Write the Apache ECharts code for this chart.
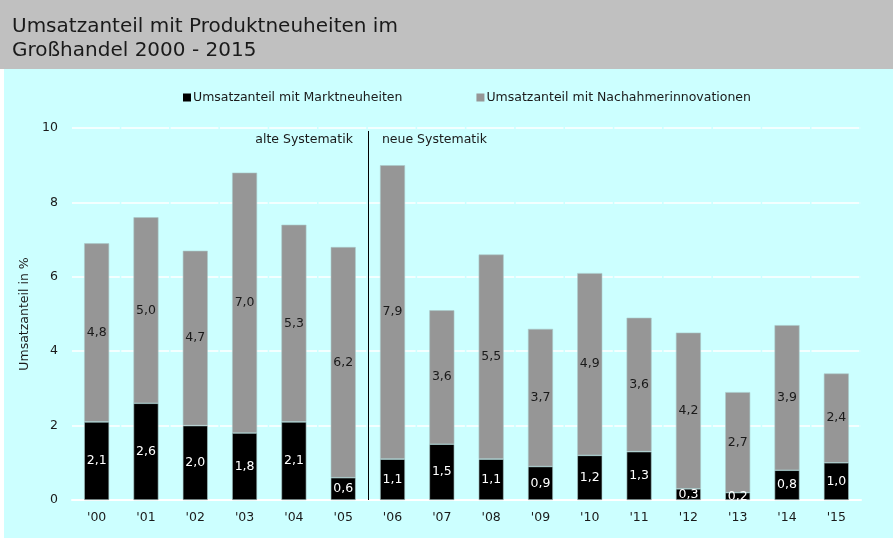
<!DOCTYPE html>
<html>
<head>
<meta charset="utf-8">
<script src="https://cdn.jsdelivr.net/npm/echarts@6/dist/echarts.min.js"></script>
<style>
html, body { margin: 0; padding: 0; background: #fff; }
#chart { width: 893px; height: 540px; }
</style>
</head>
<body>
<div id="chart"></div>
<script>
var years = ["'00","'01","'02","'03","'04","'05","'06","'07","'08","'09","'10","'11","'12","'13","'14","'15"];
var marktneuheiten = [2.1, 2.6, 2.0, 1.8, 2.1, 0.6, 1.1, 1.5, 1.1, 0.9, 1.2, 1.3, 0.3, 0.2, 0.8, 1.0];
var nachahmer = [4.8, 5.0, 4.7, 7.0, 5.3, 6.2, 7.9, 3.6, 5.5, 3.7, 4.9, 3.6, 4.2, 2.7, 3.9, 2.4];
var yTicks = [0, 2, 4, 6, 8, 10];
var breakAt = 6; // boundary between '05 and '06

var font = '"DejaVu Sans", Verdana, sans-serif';
var fs = 12.5;
var fmt = function (p) { return p.value.toFixed(1).replace('.', ','); };

var chart = echarts.init(document.getElementById('chart'));
var option = {
    animation: false,
    backgroundColor: '#fff',
    textStyle: { fontFamily: font },
    graphic: [
        { type: 'rect', z: -10, shape: { x: 0, y: 0, width: 893, height: 69 }, style: { fill: '#c0c0c0' } },
        { type: 'rect', z: -10, shape: { x: 4, y: 69, width: 889, height: 469 }, style: { fill: '#ccffff' } }
    ],
    title: {
        text: 'Umsatzanteil mit Produktneuheiten im\nGroßhandel 2000 - 2015',
        left: 7,
        top: 10,
        textStyle: { fontFamily: font, fontSize: 20, fontWeight: 'normal', color: '#1a1a1a', lineHeight: 24 }
    },
    legend: {
        top: 86,
        left: 178,
        itemWidth: 8,
        itemHeight: 8,
        itemGap: 74,
        icon: 'rect',
        itemStyle: { borderWidth: 0 },
        textStyle: { fontFamily: font, fontSize: fs, color: '#1a1a1a', padding: [0, 0, 0, -3] },
        data: ['Umsatzanteil mit Marktneuheiten', 'Umsatzanteil mit Nachahmerinnovationen']
    },
    grid: { left: 72, right: 32, top: 128, bottom: 40 },
    xAxis: [{
        type: 'category',
        data: years,
        axisLine: { lineStyle: { color: '#fff', width: 2 } },
        axisTick: { show: false },
        axisLabel: { fontFamily: font, fontSize: fs, color: '#1a1a1a', margin: 11 }
    }, {
        type: 'value',
        min: 0,
        max: years.length,
        show: false
    }],
    yAxis: {
        type: 'value',
        min: 0,
        max: 10,
        interval: 2,
        name: 'Umsatzanteil in %',
        nameLocation: 'middle',
        nameGap: 38,
        nameTextStyle: { fontFamily: font, fontSize: fs, color: '#1a1a1a' },
        axisLabel: {
            fontFamily: font, fontSize: fs, color: '#1a1a1a', margin: 14,
            formatter: function (v) { return yTicks.indexOf(v) >= 0 ? String(v) : ''; }
        },
        axisLine: { show: false },
        axisTick: { show: false },
        splitLine: { lineStyle: { color: '#fff', width: 1.5, type: [47.8, 1.5] } }
    },
    series: [{
        name: 'Umsatzanteil mit Marktneuheiten',
        type: 'bar',
        stack: 'total',
        barWidth: 25,
        data: marktneuheiten,
        itemStyle: { color: '#000', borderColor: '#a9c9c9', borderWidth: 0.6 },
        label: { show: true, position: 'inside', formatter: fmt, fontFamily: font, fontSize: fs, color: '#fff' }
    }, {
        name: 'Umsatzanteil mit Nachahmerinnovationen',
        type: 'bar',
        stack: 'total',
        barWidth: 25,
        data: nachahmer,
        itemStyle: { color: '#969696', borderColor: '#a9c9c9', borderWidth: 0.6 },
        label: { show: true, position: 'inside', formatter: fmt, fontFamily: font, fontSize: fs, color: '#1a1a1a' }
    }, {
        type: 'scatter',
        xAxisIndex: 1,
        symbolSize: 0,
        silent: true,
        data: [[breakAt, 0]],
        markLine: {
            silent: true,
            symbol: 'none',
            label: { show: false },
            lineStyle: { color: '#000', width: 1, type: 'solid' },
            data: [[{ coord: [breakAt, 9.92] }, { coord: [breakAt, 0] }]]
        },
        markPoint: {
            silent: true,
            symbol: 'rect',
            symbolSize: 0,
            data: [
                { coord: [breakAt, 9.68], label: { show: true, position: 'left', distance: 15, formatter: 'alte Systematik', fontFamily: font, fontSize: fs, color: '#1a1a1a' } },
                { coord: [breakAt, 9.68], label: { show: true, position: 'right', distance: 14, formatter: 'neue Systematik', fontFamily: font, fontSize: fs, color: '#1a1a1a' } }
            ]
        }
    }]
};
chart.setOption(option);
</script>
</body>
</html>
